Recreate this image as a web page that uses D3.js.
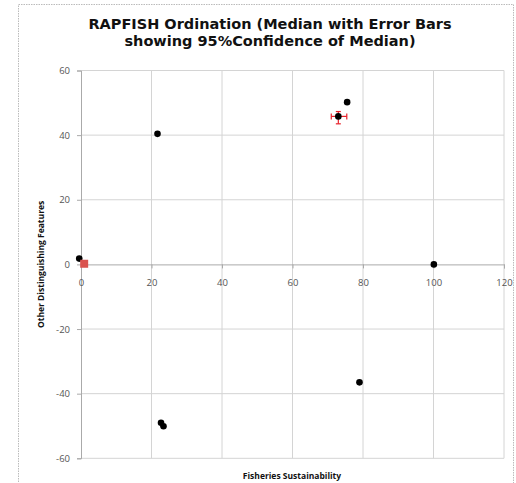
<!DOCTYPE html>
<html>
<head>
<meta charset="utf-8">
<script src="https://cdn.jsdelivr.net/npm/d3@7"></script>
<style>
    body { margin: 0; background: #fff; }
    svg { display: block; }
</style>
</head>
<body>
<script>
// points
var xValues = [-0.5, 21.7, 75.5, 100.1, 79.0, 22.7, 23.4];
var yValues = [1.8, 40.4, 50.2, 0.0, -36.5, -49.0, -50.1];

// median with 95% confidence error bars
var medianX = [73.0];
var medianY = [45.8];
var medianXLow = [71.0];
var medianXHigh = [75.4];
var medianYLow = [43.5];
var medianYHigh = [47.3];

// reference anchor (red square)
var anchorX = [0.9];
var anchorY = [0.2];

var xTicks = [0, 20, 40, 60, 80, 100, 120];
var yTicks = [-60, -40, -20, 0, 20, 40, 60];

var titleLines = ["RAPFISH Ordination (Median with Error Bars", "showing 95%Confidence of Median)"];

var width = 516, height = 483;

var svg = d3.select("body").append("svg")
    .attr("width", width)
    .attr("height", height);

// chart frame
svg.append("rect")
    .attr("x", 18.5).attr("y", 4.5)
    .attr("width", 495).attr("height", 490)
    .attr("fill", "#fff")
    .attr("stroke", "#bbb")
    .attr("stroke-dasharray", "1.5,1");

var x = d3.scaleLinear().domain([0, 120]).range([81, 504]);
var y = d3.scaleLinear().domain([-60, 60]).range([458.3, 70.5]);

var grid = svg.append("g");

grid.selectAll(".vg")
    .data(xTicks.filter(d => d !== 0))
    .enter().append("line")
    .attr("x1", d => x(d)).attr("x2", d => x(d))
    .attr("y1", y(60)).attr("y2", y(-60))
    .attr("stroke", "#d4d4d4")
    .attr("stroke-width", 1);

grid.selectAll(".hg")
    .data(yTicks.filter(d => d !== 0))
    .enter().append("line")
    .attr("x1", x(0)).attr("x2", x(120))
    .attr("y1", d => y(d)).attr("y2", d => y(d))
    .attr("stroke", "#d4d4d4")
    .attr("stroke-width", 1);

// y axis at x = 0
var yAxis = svg.append("g")
    .attr("transform", "translate(" + x(0) + ",0)")
    .call(d3.axisLeft(y).tickValues(yTicks).tickFormat(d => String(d)).tickSize(4).tickPadding(7));

// x axis at y = 0
var xAxis = svg.append("g")
    .attr("transform", "translate(0," + y(0) + ")")
    .call(d3.axisBottom(x).tickValues(xTicks).tickFormat(d => String(d)).tickSize(4).tickPadding(11));

[yAxis, xAxis].forEach(function(a) {
    a.select(".domain").attr("stroke", "#aaa");
    a.selectAll(".tick line").attr("stroke", "#aaa");
    a.selectAll(".tick text")
        .attr("fill", "#555")
        .style("font-family", "'Open Sans', sans-serif")
        .style("font-size", "9.5px");
});
xAxis.select(".tick line").remove();

// title, one text per line
svg.selectAll(".title")
    .data(titleLines)
    .enter().append("text")
    .attr("class", "title")
    .attr("x", 270)
    .attr("y", (d, i) => 28.8 + i * 17.2)
    .attr("text-anchor", "middle")
    .style("font-family", "'DejaVu Sans', sans-serif")
    .style("font-weight", "bold")
    .style("font-size", "14.5px")
    .attr("fill", "#111")
    .text(d => d);

// axis titles
svg.append("text")
    .attr("x", 292)
    .attr("y", 479)
    .attr("text-anchor", "middle")
    .style("font-family", "'Open Sans', sans-serif")
    .style("font-weight", "bold")
    .style("font-size", "8.5px")
    .attr("fill", "#111")
    .text("Fisheries Sustainability");

svg.append("text")
    .attr("transform", "translate(44," + y(0) + ") rotate(-90)")
    .attr("text-anchor", "middle")
    .style("font-family", "'Open Sans', sans-serif")
    .style("font-weight", "bold")
    .style("font-size", "8.5px")
    .attr("fill", "#111")
    .text("Other Distinguishing Features");

// points
var points = xValues.map((v, i) => ({x: v, y: yValues[i]}));
svg.append("g").selectAll("circle")
    .data(points)
    .enter().append("circle")
    .attr("cx", d => x(d.x))
    .attr("cy", d => y(d.y))
    .attr("r", 3.3)
    .attr("fill", "#000");

// anchor square
svg.append("g").selectAll("rect")
    .data(anchorX.map((v, i) => ({x: v, y: anchorY[i]})))
    .enter().append("rect")
    .attr("x", d => x(d.x) - 4)
    .attr("y", d => y(d.y) - 4)
    .attr("width", 8).attr("height", 8)
    .attr("fill", "#d9534f");

// median with error bars
var med = medianX.map((v, i) => ({
    x: v, y: medianY[i],
    xl: medianXLow[i], xh: medianXHigh[i],
    yl: medianYLow[i], yh: medianYHigh[i]
}));
var eb = svg.append("g").attr("stroke", "#e8202a").attr("stroke-width", 1.2);
med.forEach(function(d) {
    eb.append("line").attr("x1", x(d.xl)).attr("x2", x(d.xh)).attr("y1", y(d.y)).attr("y2", y(d.y));
    eb.append("line").attr("x1", x(d.xl)).attr("x2", x(d.xl)).attr("y1", y(d.y) - 3).attr("y2", y(d.y) + 3);
    eb.append("line").attr("x1", x(d.xh)).attr("x2", x(d.xh)).attr("y1", y(d.y) - 3).attr("y2", y(d.y) + 3);
    eb.append("line").attr("x1", x(d.x)).attr("x2", x(d.x)).attr("y1", y(d.yl)).attr("y2", y(d.yh));
    eb.append("line").attr("x1", x(d.x) - 2.5).attr("x2", x(d.x) + 2.5).attr("y1", y(d.yl)).attr("y2", y(d.yl));
    eb.append("line").attr("x1", x(d.x) - 2.5).attr("x2", x(d.x) + 2.5).attr("y1", y(d.yh)).attr("y2", y(d.yh));
});
svg.append("g").selectAll("circle")
    .data(med)
    .enter().append("circle")
    .attr("cx", d => x(d.x))
    .attr("cy", d => y(d.y))
    .attr("r", 3.3)
    .attr("fill", "#000");
</script>
</body>
</html>
